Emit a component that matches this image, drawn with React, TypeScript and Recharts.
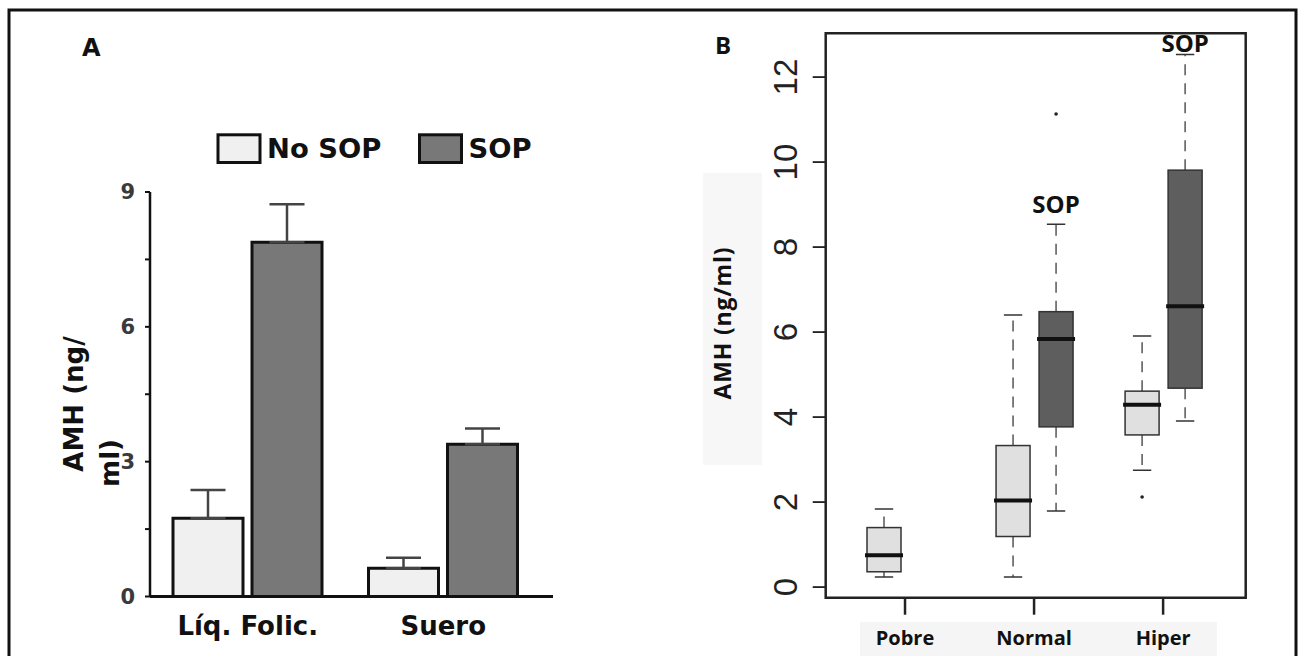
import React from 'react';
import { Bar, BarChart, ComposedChart, ErrorBar, ReferenceArea, XAxis, YAxis } from 'recharts';

// Panel A: mean AMH (+ SEM) by sample type
const SAMPLES = ['Líq. Folic.', 'Suero'];
const NO_SOP_MEAN = [1.74, 0.63];
const NO_SOP_SEM = [0.63, 0.23];
const SOP_MEAN = [7.88, 3.39];
const SOP_SEM = [0.85, 0.35];
const A_TICKS = [0, 1.5, 3, 4.5, 6, 7.5, 9];

// Panel B: AMH by ovarian response, [min, q1, median, q3, max]
const RESPONSE_GROUPS = ['Pobre', 'Normal', 'Hiper'];
const NO_SOP_BOX = [
  [0.24, 0.36, 0.75, 1.4, 1.84],
  [0.24, 1.19, 2.04, 3.33, 6.4],
  [2.75, 3.58, 4.29, 4.61, 5.91],
];
const SOP_BOX = [null, [1.79, 3.77, 5.84, 6.48, 8.54], [3.91, 4.68, 6.61, 9.81, 12.53]];
const NO_SOP_OUTLIERS = [[], [], [2.12]];
const SOP_OUTLIERS = [[], [11.13], []];
const B_TICKS = [0, 2, 4, 6, 8, 10, 12];

const SERIES = [
  { key: 'noSop', name: 'No SOP', barFill: '#f0f0f0', boxFill: '#e0e0e0' },
  { key: 'sop', name: 'SOP', barFill: '#787878', boxFill: '#5e5e5e' },
];

const FONT_A = '"DejaVu Sans", sans-serif';
const FONT_B = '"Open Sans", sans-serif';
const FONT_NUM = '"Liberation Sans", Arial, sans-serif';

const X_DOMAIN_B: [number, number] = [-0.344, 9.42];
const Y_DOMAIN_B: [number, number] = [-0.25, 13.03];

const barData = SAMPLES.map((sample, i) => ({
  sample,
  noSop: NO_SOP_MEAN[i],
  noSopErr: [0, NO_SOP_SEM[i]],
  sop: SOP_MEAN[i],
  sopErr: [0, SOP_SEM[i]],
}));

const boxSources = [
  { series: SERIES[0], boxes: NO_SOP_BOX, outliers: NO_SOP_OUTLIERS },
  { series: SERIES[1], boxes: SOP_BOX, outliers: SOP_OUTLIERS },
];

const boxData: any[] = [];
RESPONSE_GROUPS.forEach((group, gi) => {
  boxSources.forEach((src, si) => {
    const stats = src.boxes[gi];
    if (!stats) return;
    boxData.push({
      group,
      series: src.series,
      pos: gi * 3 + si + 1,
      range: [stats[0], stats[4]],
      stats,
      outliers: src.outliers[gi],
    });
  });
});

const groupTicks = RESPONSE_GROUPS.map((_, i) => i * 3 + 1.5);

const AxisTitleA = () => (
  <g fontFamily={FONT_A} fontWeight={700} fontSize={26} fill="#111">
    <text x={83.3} y={404} textAnchor="middle" transform="rotate(-90 83.3 404)">AMH (ng/</text>
    <text x={118.5} y={463} textAnchor="middle" transform="rotate(-90 118.5 463)">ml)</text>
  </g>
);

const AxisTitleB = () => (
  <text
    x={81}
    y={323}
    textAnchor="middle"
    transform="rotate(-90 81 323)"
    fontFamily={FONT_B}
    fontWeight={700}
    fontSize={23}
    letterSpacing={0.8}
    fill="#111"
  >
    AMH (ng/ml)
  </text>
);

const RotatedTick = (props: any) => {
  const { x, y, payload } = props;
  return (
    <text
      x={x}
      y={y}
      textAnchor="middle"
      transform={`rotate(-90 ${x} ${y})`}
      fontFamily={FONT_NUM}
      fontSize={33}
      fill="#222"
    >
      {payload.value}
    </text>
  );
};

const BoxShape = (props: any) => {
  const { x, y, width, height, payload } = props;
  if (!payload || !payload.stats) return null;
  const [lo, q1, med, q3, hi] = payload.stats;
  const top = Math.min(y, y + height);
  const h = Math.abs(height);
  const yOf = (v: number) => top + ((hi - v) / (hi - lo)) * h;
  const cx = x + width / 2;
  const cap = width * 0.27;
  const plotTop = yOf(Y_DOMAIN_B[1]);
  const labelY = Math.max(yOf(hi) - 11, plotTop + 19);
  const whisker = { stroke: '#555', strokeWidth: 1.5, strokeDasharray: '11 8' };
  return (
    <g>
      <line x1={cx} x2={cx} y1={yOf(q3)} y2={yOf(hi)} {...whisker} />
      <line x1={cx} x2={cx} y1={yOf(q1)} y2={yOf(lo)} {...whisker} />
      <line x1={cx - cap} x2={cx + cap} y1={yOf(hi)} y2={yOf(hi)} stroke="#333" strokeWidth={1.5} />
      <line x1={cx - cap} x2={cx + cap} y1={yOf(lo)} y2={yOf(lo)} stroke="#333" strokeWidth={1.5} />
      <rect
        x={x}
        y={yOf(q3)}
        width={width}
        height={yOf(q1) - yOf(q3)}
        fill={payload.series.boxFill}
        stroke="#333"
        strokeWidth={1.5}
      />
      <line x1={x - 2} x2={x + width + 2} y1={yOf(med)} y2={yOf(med)} stroke="#111" strokeWidth={4} />
      {payload.outliers.map((o: number, i: number) => (
        <circle key={i} cx={cx} cy={yOf(o)} r={1.8} fill="#222" />
      ))}
      {payload.series.key === 'sop' && (
        <text x={cx} y={labelY} textAnchor="middle" fontFamily={FONT_B} fontWeight={700} fontSize={24} fill="#111">
          {payload.series.name}
        </text>
      )}
    </g>
  );
};

const LEGEND_X = [218, 419.5];

export default function App() {
  return (
    <div style={{ position: 'relative', width: 1299, height: 656, background: '#fff', overflow: 'hidden' }}>
      <style>{'body{margin:0;overflow:hidden}'}</style>

      <svg width={1299} height={656} style={{ position: 'absolute', left: 0, top: 0 }}>
        <rect x={9} y={10} width={1287} height={700} fill="none" stroke="#111" strokeWidth={3} />
        <rect x={703} y={173} width={59} height={292} fill="#f7f7f7" />
        <rect x={860} y={622} width={357} height={40} fill="#f5f5f5" />
        <text x={82} y={56} fontFamily={FONT_A} fontWeight={700} fontSize={24} fill="#111">A</text>
        <text x={715} y={54.3} fontFamily={FONT_B} fontWeight={700} fontSize={24} fill="#111">B</text>
        {SERIES.map((s, i) => (
          <g key={s.key}>
            <rect x={LEGEND_X[i]} y={134.8} width={42} height={27.7} fill={s.barFill} stroke="#111" strokeWidth={3} />
            <text x={LEGEND_X[i] + 49} y={158.3} fontFamily={FONT_A} fontWeight={700} fontSize={27.4} fill="#111">
              {s.name}
            </text>
          </g>
        ))}
      </svg>

      <div style={{ position: 'absolute', left: 0, top: 0 }}>
        <BarChart
          width={640}
          height={656}
          data={barData}
          margin={{ top: 192, right: 87, bottom: 19.5, left: 90 }}
          barSize={70}
          barGap={9}
        >
          <XAxis
            dataKey="sample"
            height={40}
            padding={{ left: 0, right: 12 }}
            axisLine={{ stroke: '#111', strokeWidth: 3 }}
            tickLine={false}
            tickSize={0}
            tickMargin={20}
            interval={0}
            tick={{ fontFamily: FONT_A, fontSize: 26, fontWeight: 700, fill: '#111' }}
          />
          <YAxis
            width={60}
            domain={[0, 9]}
            ticks={A_TICKS}
            interval={0}
            tickFormatter={(v: number) => (v % 3 === 0 ? String(v) : '')}
            axisLine={{ stroke: '#111', strokeWidth: 2.5 }}
            tickLine={{ stroke: '#111', strokeWidth: 2 }}
            tickSize={5}
            tickMargin={10}
            tick={{ fontFamily: FONT_A, fontSize: 21, fontWeight: 700, fill: '#3a3a3a' }}
            label={{ content: () => <AxisTitleA /> }}
          />
          {SERIES.map((s) => (
            <Bar
              key={s.key}
              dataKey={s.key}
              name={s.name}
              fill={s.barFill}
              stroke="#111"
              strokeWidth={3}
              isAnimationActive={false}
            >
              <ErrorBar dataKey={`${s.key}Err`} direction="y" width={17.5} stroke="#444" strokeWidth={2.5} />
            </Bar>
          ))}
        </BarChart>
      </div>

      <div style={{ position: 'absolute', left: 650, top: 0 }}>
        <ComposedChart
          width={649}
          height={656}
          data={boxData}
          margin={{ top: 33.3, right: 53.3, bottom: 8.3, left: 75.7 }}
        >
          <ReferenceArea
            x1={X_DOMAIN_B[0]}
            x2={X_DOMAIN_B[1]}
            y1={Y_DOMAIN_B[0]}
            y2={Y_DOMAIN_B[1]}
            fill="none"
            stroke="#222"
            strokeWidth={2.5}
          />
          <XAxis
            type="number"
            dataKey="pos"
            domain={X_DOMAIN_B}
            allowDataOverflow
            ticks={groupTicks}
            interval={0}
            tickFormatter={(v: number) => RESPONSE_GROUPS[Math.round((v - 1.5) / 3)]}
            height={50}
            axisLine={false}
            tickLine={{ stroke: '#222', strokeWidth: 2.5 }}
            tickSize={17}
            tickMargin={16}
            tick={{ fontFamily: FONT_B, fontSize: 20, fontWeight: 700, fill: '#111' }}
          />
          <YAxis
            type="number"
            domain={Y_DOMAIN_B}
            allowDataOverflow
            ticks={B_TICKS}
            interval={0}
            width={100}
            axisLine={false}
            tickLine={{ stroke: '#222', strokeWidth: 1.8 }}
            tickSize={13}
            tickMargin={15.7}
            tick={<RotatedTick />}
            label={{ content: () => <AxisTitleB /> }}
          />
          <Bar dataKey="range" barSize={34} shape={BoxShape} isAnimationActive={false} />
        </ComposedChart>
      </div>
    </div>
  );
}
